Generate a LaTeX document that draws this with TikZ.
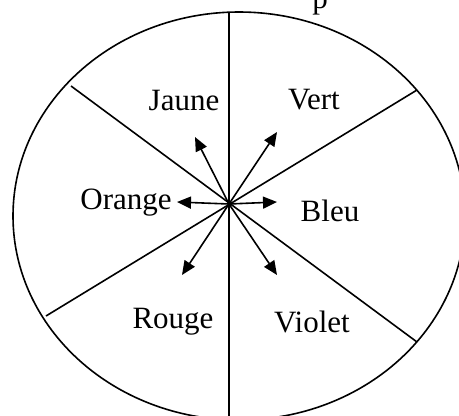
\documentclass[tikz,border=0pt]{standalone}
\usepackage{fontspec}
\setmainfont{Liberation Serif}
\usetikzlibrary{arrows.meta}

\begin{document}
\begin{tikzpicture}[x=1pt, y=-1pt,
    every node/.style={font=\fontsize{31}{36}\selectfont, inner sep=0pt},
    rim/.style={line width=1.6pt},
    spoke/.style={line width=1.6pt},
    arrow/.style={-{Triangle[length=14pt, width=12pt]}, line width=1.6pt}]

  \useasboundingbox (0,0) rectangle (459,416);

  % wheel
  \draw[rim] (239,216) ellipse [x radius=226pt, y radius=204pt];
  \coordinate (c) at (229,204);
  \coordinate (top) at (229,12);
  \coordinate (bot) at (229,430);
  \coordinate (nw) at (71,86);
  \coordinate (se) at (417,342);
  \coordinate (sw) at (46,316);
  \coordinate (ne) at (417,90);
  \draw[spoke] (top) -- (bot);
  \draw[spoke] (nw) -- (se);
  \draw[spoke] (sw) -- (ne);

  % colours
  \node (jaune) at (184,100) {Jaune};
  \node (vert) at (314,100) {Vert};
  \node (orange) at (126,203) {Orange};
  \node (bleu) at (330,211) {Bleu};
  \node (rouge) at (173,322) {Rouge};
  \node (violet) at (312,322) {Violet};
  \node[anchor=base] (frag) at (320,8) {p};

  % arrows
  \coordinate (aj) at (195,137);
  \coordinate (av) at (277,132);
  \coordinate (ao) at (177,202);
  \coordinate (ab) at (277,202);
  \coordinate (ar) at (182,275);
  \coordinate (avi) at (277,275);
  \foreach \t in {aj, av, ao, ab, ar, avi}
    \draw[arrow] (c) -- (\t);
\end{tikzpicture}
\end{document}
